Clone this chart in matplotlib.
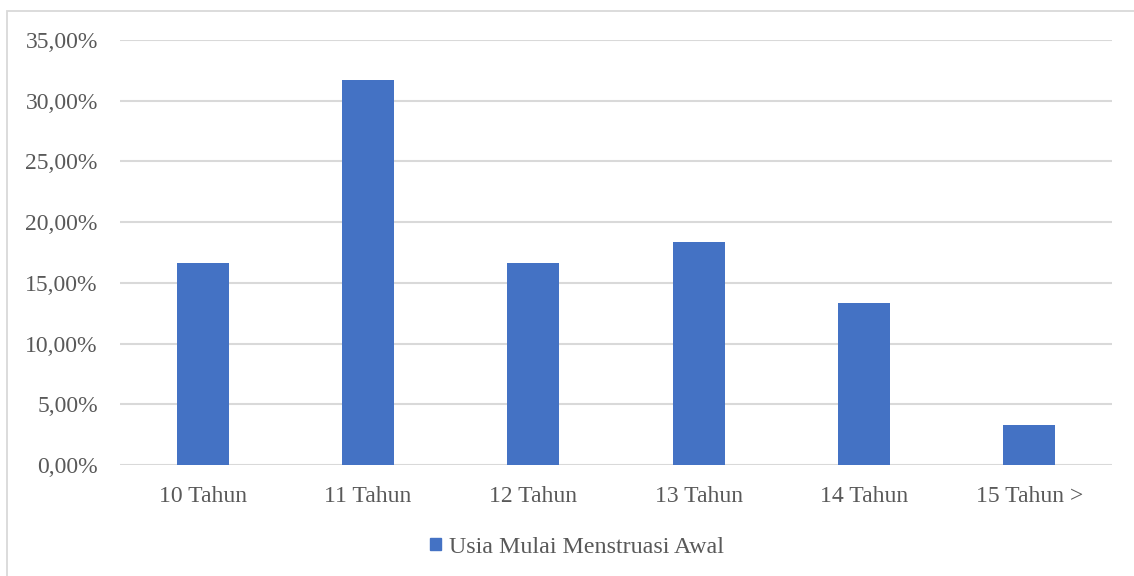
import matplotlib
matplotlib.use("Agg")
import matplotlib.pyplot as plt
from matplotlib.patches import Rectangle
from matplotlib.ticker import FuncFormatter

categories = ["10 Tahun", "11 Tahun", "12 Tahun", "13 Tahun", "14 Tahun", "15 Tahun >"]
values = [0.1667, 0.3167, 0.1667, 0.1833, 0.1333, 0.0333]
series_name = "Usia Mulai Menstruasi Awal"

bar_color = "#4472C4"
text_color = "#595959"
grid_color = "#D9D9D9"

plt.rcParams['font.family'] = ['Liberation Serif', 'DejaVu Serif']

fig = plt.figure(figsize=(11.34, 5.76), dpi=100)
ax = fig.add_axes([120/1134, 1 - 465/576, (1112-120)/1134, (465-40)/576])

x = list(range(len(categories)))
ax.bar(x, values, width=0.315, color=bar_color, zorder=3)

ax.set_xlim(-0.5, len(categories) - 0.5)
ax.set_ylim(0, 0.35)
ax.set_yticks([i * 0.05 for i in range(8)])
ax.yaxis.set_major_formatter(FuncFormatter(lambda v, p: f"{v*100:.2f}%".replace(".", ",")))
ax.set_xticks(x)
ax.set_xticklabels(categories)

ax.grid(axis='y', color=grid_color, linewidth=1.5, zorder=0)
for s in ax.spines.values():
    s.set_visible(False)
ax.tick_params(axis='both', length=0, labelsize=17, colors=text_color)
ax.tick_params(axis='y', pad=16)
ax.tick_params(axis='x', pad=15)

# legend
handle = Rectangle((0, 0), 1, 1, color=bar_color)
fig.legend([handle], [series_name], loc='center', bbox_to_anchor=(0.509, 0.05),
           frameon=False, fontsize=17.3, labelcolor=text_color,
           handlelength=0.42, handleheight=0.42, handletextpad=0.35)

# chart border
fig.patches.append(Rectangle((7/1134, -0.01), 1.0, 1 - 11/576 + 0.01,
                             transform=fig.transFigure, fill=False,
                             edgecolor=grid_color, linewidth=1.3))

fig.savefig("out.png", dpi=100)
